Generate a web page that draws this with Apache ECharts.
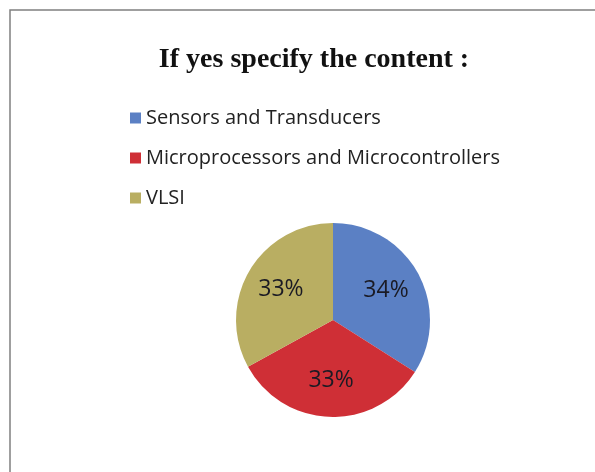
<!DOCTYPE html>
<html><head><meta charset="utf-8">
<script src="https://cdn.jsdelivr.net/npm/echarts@6/dist/echarts.min.js"></script>
<style>html,body{margin:0;padding:0;background:#fff}#c{width:595px;height:472px}</style>
</head><body><div id="c"></div>
<script>
const categories = ["Sensors and Transducers", "Microprocessors and Microcontrollers", "VLSI"];
const values = [34, 33, 33];
const colors = ["#5b80c4", "#cf2f36", "#b9ae62"];

const data = categories.map((n, i) => ({ name: n, value: values[i], itemStyle: { color: colors[i] } }));
const chart = echarts.init(document.getElementById('c'));
chart.setOption({
  backgroundColor: '#fff',
  animation: false,
  title: {
    text: 'If yes specify the content :',
    left: 309, textAlign: 'center', top: 41,
    textStyle: { fontFamily: 'Liberation Serif', fontWeight: 'bold', fontSize: 28, color: '#111' }
  },
  legend: {
    orient: 'vertical', left: 125, top: 103, itemGap: 20,
    itemWidth: 11, itemHeight: 11, icon: 'rect',
    textStyle: { fontFamily: 'Open Sans', fontSize: 20, color: '#222' },
    data: categories
  },
  graphic: [{
    type: 'rect', shape: { x: 10, y: 10, width: 620, height: 500 },
    style: { fill: 'none', stroke: '#808080', lineWidth: 1.5 }, silent: true, z: -1
  }],
  series: [{
    type: 'pie', center: [333, 320], radius: 97, startAngle: 90, clockwise: true,
    label: { show: false }, labelLine: { show: false },
    data: data
  }, {
    type: 'pie', center: [333, 320], radius: 115, startAngle: 90, clockwise: true,
    silent: true, itemStyle: { color: 'transparent' },
    label: { show: true, position: 'inside', formatter: p => Math.round(p.value) + '%',
      fontFamily: 'Open Sans', fontSize: 23, color: '#1a1a24' },
    labelLine: { show: false },
    data: categories.map((n, i) => ({ name: n, value: values[i], itemStyle: { color: 'rgba(0,0,0,0)' } }))
  }]
});
</script></body></html>
